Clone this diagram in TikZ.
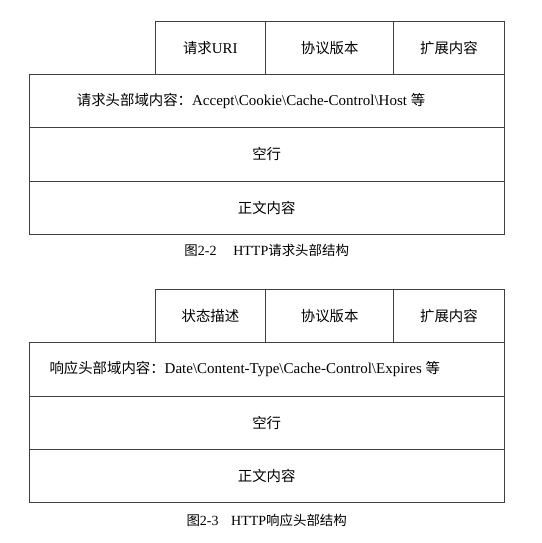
\documentclass[tikz,border=0pt]{standalone}
\usepackage{fontspec}
\setmainfont{Liberation Serif}
\newfontfamily\cjk[Scale=0.96]{Noto Sans CJK SC}
\newcommand{\zh}[1]{{\cjk #1}}
\usetikzlibrary{positioning}

\begin{document}
\begin{tikzpicture}[x=1pt, y=-1pt,
    cell/.style={draw=black!75, line width=0.8pt, inner sep=0pt,
                 font=\fontsize{15}{17}\selectfont},
    rowtext/.style={anchor=west, inner sep=0pt, font=\fontsize{15}{17}\selectfont},
    caption/.style={inner sep=0pt, font=\fontsize{14}{16}\selectfont}]
    \useasboundingbox (0,0) rectangle (541,543);

    % Request header structure
    \node[cell, minimum width=110.7pt, minimum height=52.3pt] (requri) at (210.4,47.9) {\zh{请求}URI};
    \node[cell, minimum width=128pt, minimum height=52.3pt] (reqver) at (329.7,47.9) {\zh{协议版本}};
    \node[cell, minimum width=110.3pt, minimum height=52.3pt] (reqext) at (448.9,47.9) {\zh{扩展内容}};
    \node[cell, minimum width=474.7pt, minimum height=53.7pt] (reqhdr) at (266.7,100.9) {};
    \node[rowtext] (reqhdrtxt) at (76.7,100.9)
        {\zh{请求头部域内容：}Accept\textbackslash Cookie\textbackslash Cache-Control\textbackslash Host \zh{等}};
    \node[cell, minimum width=474.7pt, minimum height=53.3pt] (reqblank) at (266.7,154.3) {\zh{空行}};
    \node[cell, minimum width=474.7pt, minimum height=53pt] (reqbody) at (266.7,207.5) {\zh{正文内容}};
    \node[caption] (reqcap) at (266.7,250) {\zh{图}2-2\hspace{1.2em}HTTP\zh{请求头部结构}};

    % Response header structure
    \node[cell, minimum width=110.7pt, minimum height=53.3pt] (resstat) at (210.4,315.7) {\zh{状态描述}};
    \node[cell, minimum width=128pt, minimum height=53.3pt] (resver) at (329.7,315.7) {\zh{协议版本}};
    \node[cell, minimum width=110.3pt, minimum height=53.3pt] (resext) at (448.9,315.7) {\zh{扩展内容}};
    \node[cell, minimum width=474.7pt, minimum height=53.7pt] (reshdr) at (266.7,369.2) {};
    \node[rowtext] (reshdrtxt) at (49.3,369.2)
        {\zh{响应头部域内容}\zh{：}Date\textbackslash Content-Type\textbackslash Cache-Control\textbackslash Expires \zh{等}};
    \node[cell, minimum width=474.7pt, minimum height=53.3pt] (resblank) at (266.7,422.7) {\zh{空行}};
    \node[cell, minimum width=474.7pt, minimum height=53.4pt] (resbody) at (266.7,476) {\zh{正文内容}};
    \node[caption] (rescap) at (266.7,520.7) {\zh{图}2-3\hspace{0.9em}HTTP\zh{响应头部结构}};
\end{tikzpicture}
\end{document}
